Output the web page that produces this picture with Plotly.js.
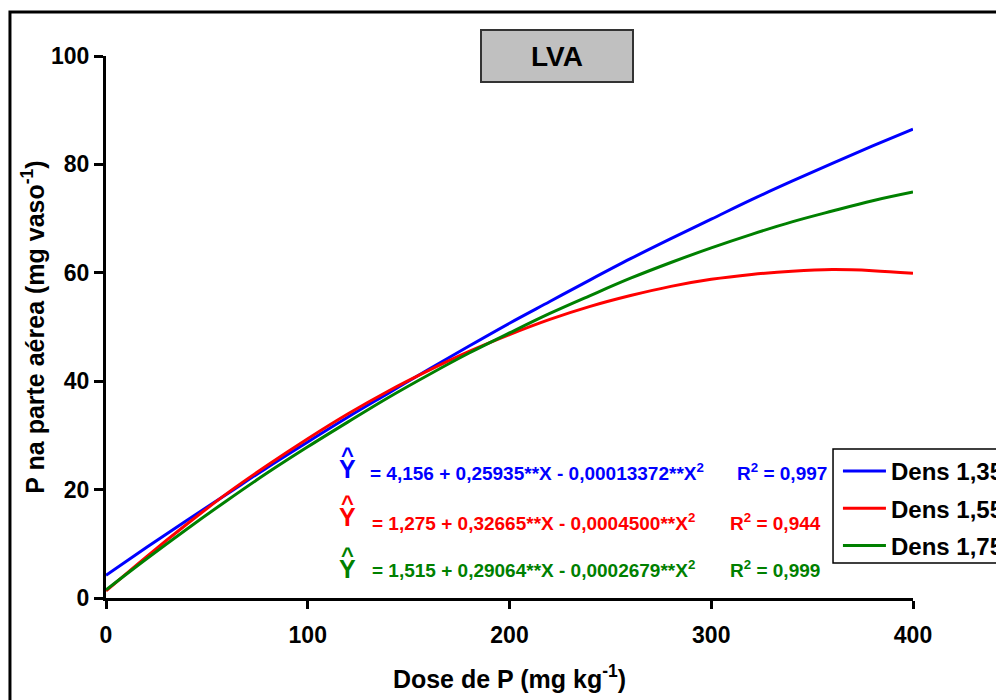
<!DOCTYPE html>
<html>
<head>
<meta charset="utf-8">
<script src="https://cdn.plot.ly/plotly-3.0.1.min.js"></script>
<style>html,body{margin:0;padding:0;background:#fff;}#chart{width:996px;height:700px;}</style>
</head>
<body>
<div id="chart"></div>
<script>
// Data
const doseP = [0, 20, 40, 60, 80, 100, 120, 140, 160, 180, 200, 220, 240, 260, 280, 300, 320, 340, 360, 380, 400];
const dens135 = [4.2, 9.3, 14.3, 19.2, 24.1, 28.8, 33.4, 37.8, 42.2, 46.5, 50.7, 54.7, 58.7, 62.6, 66.3, 69.9, 73.5, 76.9, 80.2, 83.4, 86.5];
const dens155 = [1.3, 7.6, 13.6, 19.3, 24.5, 29.4, 34.0, 38.2, 42.0, 45.5, 48.6, 51.4, 53.8, 55.8, 57.5, 58.8, 59.7, 60.3, 60.6, 60.4, 59.9];
const dens175 = [1.5, 7.2, 12.7, 18.0, 23.1, 27.9, 32.5, 37.0, 41.2, 45.2, 48.9, 52.5, 55.8, 59.0, 61.9, 64.6, 67.1, 69.4, 71.4, 73.3, 74.9];
const seriesNames = ["Dens 1,35", "Dens 1,55", "Dens 1,75"];
const seriesColors = ["#0000ff", "#ff0000", "#008000"];
const equations = [
  "= 4,156 + 0,25935**X - 0,00013372**X<sup>2</sup>",
  "= 1,275 + 0,32665**X - 0,0004500**X<sup>2</sup>",
  "= 1,515 + 0,29064**X - 0,0002679**X<sup>2</sup>"
];
const rSquared = ["R<sup>2</sup> = 0,997", "R<sup>2</sup> = 0,944", "R<sup>2</sup> = 0,999"];
const xTicks = [0, 100, 200, 300, 400];
const yTicks = [0, 20, 40, 60, 80, 100];

const FONT = "Liberation Sans, Arial, sans-serif";
const allY = [dens135, dens155, dens175];

const traces = allY.map((ys, i) => ({
  x: doseP, y: ys, type: "scatter", mode: "lines",
  name: seriesNames[i], legendgroup: "g" + i,
  line: {color: seriesColors[i], width: 3, shape: "spline"}
}));

// equation annotation positions (data coords)
const eqY = [23.3, 14.0, 5.35];
const eqX = [129.9, 130.9, 130.9];
const r2X = [311.8, 308.3, 308.3];
const hatX = 119.5;
const yHatY = [23.8, 14.9, 5.35];
const caretY = [26.3, 17.4, 7.9];

const annotations = [];
for (let i = 0; i < 3; i++) {
  annotations.push({x: eqX[i], y: eqY[i], xref: "x", yref: "y", xanchor: "left", yanchor: "middle",
    text: equations[i], showarrow: false, font: {family: FONT, size: 19, color: seriesColors[i], weight: "bold"}});
  annotations.push({x: r2X[i], y: eqY[i], xref: "x", yref: "y", xanchor: "left", yanchor: "middle",
    text: rSquared[i], showarrow: false, font: {family: FONT, size: 19, color: seriesColors[i], weight: "bold"}});
  annotations.push({x: hatX, y: yHatY[i], xref: "x", yref: "y", xanchor: "center", yanchor: "middle",
    text: "Y", showarrow: false, font: {family: FONT, size: 25, color: seriesColors[i], weight: "bold"}});
  annotations.push({x: hatX, y: caretY[i], xref: "x", yref: "y", xanchor: "center", yanchor: "middle",
    text: "^", showarrow: false, font: {family: FONT, size: 22, color: seriesColors[i], weight: "bold"}});
}
// Title box
annotations.push({x: 0.559, y: 1.0, xref: "paper", yref: "paper", xanchor: "center", yanchor: "middle",
  text: "LVA", showarrow: false, width: 150, height: 50, bgcolor: "#c0c0c0", bordercolor: "#333333",
  borderwidth: 2, borderpad: 0, font: {family: FONT, size: 28, color: "#000", weight: "bold"}});

const layout = {
  width: 996, height: 700, autosize: false,
  paper_bgcolor: "#ffffff", plot_bgcolor: "#ffffff",
  margin: {l: 106, r: 83, t: 56, b: 102, autoexpand: false},
  font: {family: FONT, color: "#000"},
  showlegend: true,
  legend: {x: 0.907, xanchor: "left", y: 0.2749, yanchor: "top",
    bgcolor: "rgba(0,0,0,0)", borderwidth: 0, traceorder: "grouped", tracegroupgap: 3,
    itemwidth: 43, font: {family: FONT, size: 24, weight: "bold"}},
  xaxis: {range: [0, 400], tickvals: xTicks, ticktext: xTicks.map(String), ticks: "outside", ticklen: 8, tickwidth: 3,
    tickcolor: "#000", showline: true, linewidth: 3, linecolor: "#000", showgrid: false, zeroline: false,
    ticklabelstandoff: 6, automargin: true,
    tickfont: {family: FONT, size: 23, weight: "bold"},
    title: {text: "Dose de P (mg kg<sup>-1</sup>)", standoff: 24, font: {family: FONT, size: 25, weight: "bold"}}},
  yaxis: {range: [0, 100], tickvals: yTicks, ticktext: yTicks.map(String), ticks: "outside", ticklen: 9, tickwidth: 3,
    tickcolor: "#000", showline: true, linewidth: 3, linecolor: "#000", showgrid: false, zeroline: false,
    ticklabelstandoff: 0, automargin: true,
    tickfont: {family: FONT, size: 23, weight: "bold"},
    title: {text: "P na parte aérea (mg vaso<sup>-1</sup>)", standoff: 0, font: {family: FONT, size: 25, weight: "bold"}}},
  annotations: annotations,
  shapes: [
    // outer frame
    {type: "rect", xref: "paper", yref: "paper", x0: -0.119, x1: 1.3, y0: -0.4, y1: 1.081,
      line: {color: "#000", width: 3}, fillcolor: "rgba(0,0,0,0)", layer: "below"},
    // legend box
    {type: "rect", xref: "paper", yref: "paper", x0: 0.9009, x1: 1.3, y0: 0.0646, y1: 0.2749,
      line: {color: "#000", width: 1.5}, fillcolor: "#ffffff", layer: "above"}
  ]
};

Plotly.newPlot("chart", traces, layout, {displayModeBar: false, staticPlot: true});
</script>
</body>
</html>
